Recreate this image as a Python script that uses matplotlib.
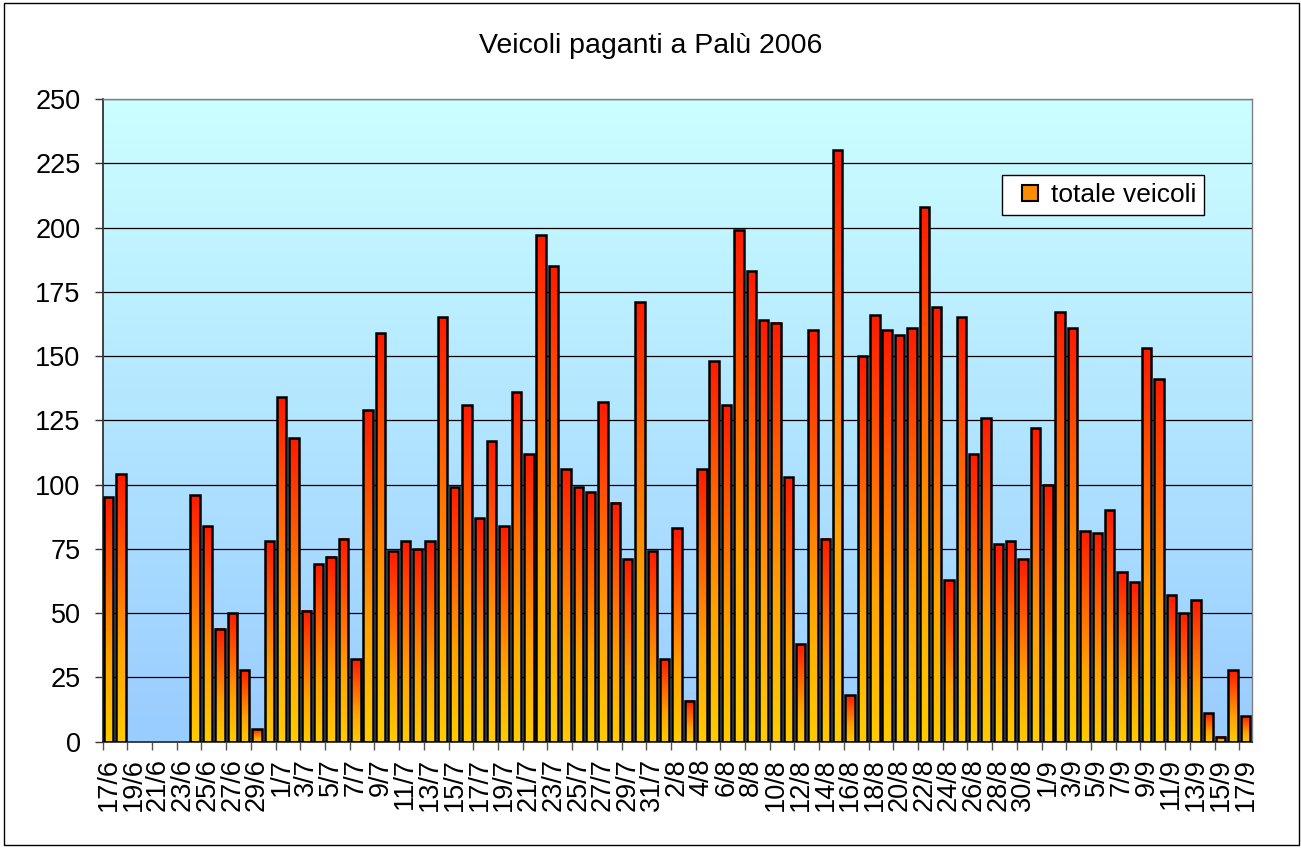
import numpy as np
import pandas as pd
import matplotlib
matplotlib.use("Agg")
from matplotlib import pyplot as plt
from matplotlib.colors import LinearSegmentedColormap
from matplotlib.patches import Rectangle
from matplotlib.lines import Line2D

plt.rcParams['font.family'] = ['Liberation Sans', 'DejaVu Sans']

# vehicles per day, 17/6/2006 .. 17/9/2006
giugno = [95, 104, 0, 0, 0, 0, 0, 96, 84, 44, 50, 28, 5, 78]
luglio = [134, 118, 51, 69, 72, 79, 32, 129, 159, 74, 78, 75, 78, 165, 99, 131,
          87, 117, 84, 136, 112, 197, 185, 106, 99, 97, 132, 93, 71, 171, 74]
agosto = [32, 83, 16, 106, 148, 131, 199, 183, 164, 163, 103, 38, 160, 79, 230, 18,
          150, 166, 160, 158, 161, 208, 169, 63, 165, 112, 126, 77, 78, 71, 122]
settembre = [100, 167, 161, 82, 81, 90, 66, 62, 153, 141, 57, 50, 55, 11, 2, 28, 10]

totale = giugno + luglio + agosto + settembre
giorni = ["%d/%d" % (d.day, d.month) for d in pd.date_range("2006-06-17", "2006-09-17")]

title = "Veicoli paganti a Palù 2006"
serie = "totale veicoli"

bar_cmap = LinearSegmentedColormap.from_list(
    "bar", [(0, "#FFCC00"), (0.35, "#FFA200"), (0.7, "#FF5A00"), (1, "#FF1A00")])
bg_cmap = LinearSegmentedColormap.from_list("bg", ["#99CCFF", "#CCFFFF"])
grad = np.linspace(0, 1, 256).reshape(-1, 1)

fig = plt.figure(figsize=(13.01, 8.48), dpi=100)
fig.patch.set_facecolor("white")
fig.patches.append(Rectangle((4 / 1301, 3 / 848), 1295 / 1301, 842 / 848,
                             transform=fig.transFigure, fill=False,
                             edgecolor="black", linewidth=1))
fig.text(0.5, 1 - 53 / 848, title, ha="center", va="baseline", fontsize=20.5)

ax = fig.add_axes([0.0788, 0.1254, 0.8833, 0.7579])
n = len(totale)
x = np.arange(n)
ymax = 250

ax.imshow(grad, extent=[-0.5, n - 0.5, 0, ymax], origin="lower", cmap=bg_cmap,
          aspect="auto", zorder=0)

w = 0.76
for xi, v in zip(x, totale):
    if v <= 0:
        continue
    ax.imshow(grad, extent=[xi - w / 2, xi + w / 2, 0, v], origin="lower",
              cmap=bar_cmap, aspect="auto", zorder=2)
    ax.add_patch(Rectangle((xi - w / 2, 0), w, v, fill=False,
                           edgecolor="black", linewidth=1.8, zorder=3))

ax.set_xlim(-0.5, n - 0.5)
ax.set_ylim(0, ymax)
ax.set_yticks(np.arange(0, ymax + 1, 25))
ax.yaxis.grid(True, color="black", linewidth=0.9)
ax.set_axisbelow(True)

ax.set_xticks(np.arange(-0.5, n - 1, 2))
ax.set_xticklabels([])
ax.set_xticks(x[::2], minor=True)
ax.set_xticklabels(giorni[::2], minor=True, rotation=90)
ax.tick_params(axis="x", which="major", direction="out", length=5.5, width=1,
               color="#555555")
ax.tick_params(axis="x", which="minor", length=0, pad=12, labelsize=19.5)
ax.tick_params(axis="y", direction="out", length=5.8, width=1, pad=10,
               labelsize=19.5, color="#333333")

for s in ["left", "bottom"]:
    ax.spines[s].set_color("#333333")
    ax.spines[s].set_linewidth(1.3)
for s in ["top", "right"]:
    ax.spines[s].set_color("#808080")
    ax.spines[s].set_linewidth(1)

handle = Line2D([], [], linestyle="none", marker="s", markersize=11,
                markerfacecolor="#FF8C00", markeredgecolor="black",
                markeredgewidth=1.5, label=serie)
leg = ax.legend(handles=[handle], loc="upper right", bbox_to_anchor=(0.9585, 0.8817),
                borderaxespad=0, fontsize=19, frameon=True, fancybox=False,
                handlelength=1.5, handletextpad=0.05, borderpad=0.3)
leg.get_frame().set_edgecolor("black")
leg.get_frame().set_linewidth(1)
leg.get_frame().set_alpha(1)

fig.savefig("out.png", dpi=100)
